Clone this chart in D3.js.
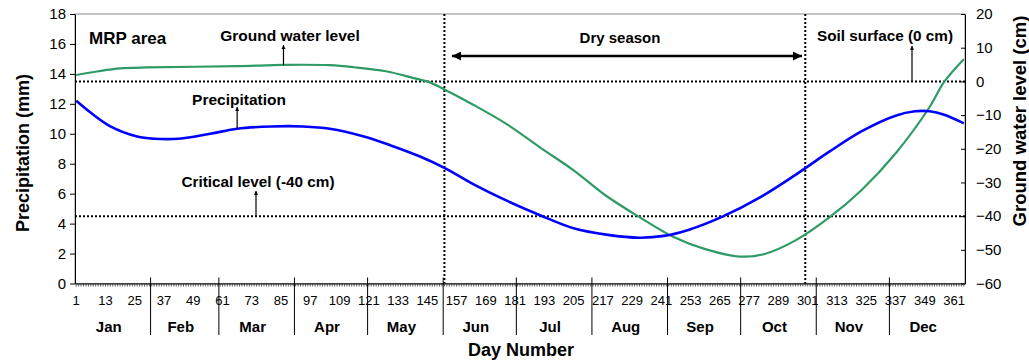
<!DOCTYPE html>
<html>
<head>
<meta charset="utf-8">
<script src="https://cdn.jsdelivr.net/npm/d3@7"></script>
<style>
  body { margin: 0; background: #fff; }
  text { font-family: "Liberation Sans", Arial, sans-serif; fill: #000; }
</style>
</head>
<body>
<svg id="chart" width="1029" height="360"></svg>
<script>
// Mean daily precipitation (mm) by day of year
const precipDays   = [1, 7, 15, 26, 33, 43, 56, 67, 81, 94, 105, 119, 130, 142, 152, 164, 178, 191, 205, 219, 232, 242, 252, 266, 282, 296, 310, 323, 337, 345, 351, 357, 365];
const precipValues = [12.2, 11.4, 10.5, 9.82, 9.67, 9.67, 10.0, 10.34, 10.49, 10.49, 10.34, 9.82, 9.22, 8.48, 7.72, 6.62, 5.5, 4.58, 3.69, 3.25, 3.06, 3.18, 3.58, 4.47, 5.81, 7.26, 8.82, 10.16, 11.21, 11.5, 11.5, 11.27, 10.7];

// Mean ground water level (cm, relative to soil surface) by day of year
const gwDays   = [1, 10, 19, 30, 67, 86, 105, 115, 128, 139, 146, 152, 164, 178, 191, 205, 218, 232, 246, 259, 273, 283, 296, 310, 323, 337, 351, 357, 365];
const gwValues = [1.9, 3.0, 3.85, 4.15, 4.5, 4.9, 4.8, 4.2, 3.0, 1.05, -0.3, -2.4, -7.0, -12.9, -19.5, -26.4, -33.8, -40.3, -46.2, -49.8, -52.0, -51.3, -47.2, -40.3, -32.3, -21.4, -7.6, -0.1, 6.6];

const monthNames     = ["Jan", "Feb", "Mar", "Apr", "May", "Jun", "Jul", "Aug", "Sep", "Oct", "Nov", "Dec"];
const monthStartDays = [1, 32, 60, 91, 121, 152, 182, 213, 244, 274, 305, 335];
const monthEndDays   = [31, 59, 90, 120, 151, 181, 212, 243, 273, 304, 334, 365];
const dayTickLabels  = [1, 13, 25, 37, 49, 61, 73, 85, 97, 109, 121, 133, 145, 157, 169, 181, 193, 205, 217, 229, 241, 253, 265, 277, 289, 301, 313, 325, 337, 349, 361];
const precipTicks    = [0, 2, 4, 6, 8, 10, 12, 14, 16, 18];
const gwTicks        = [-60, -50, -40, -30, -20, -10, 0, 10, 20];

const soilSurfaceLevel = 0;
const criticalLevel    = -40;
const drySeasonDays    = [152, 300];

const svg = d3.select("#chart");
const plotLeft = 75, plotRight = 965, plotTop = 14, plotBottom = 283.5;

const allDays = d3.range(1, 366);
const x  = d3.scaleBand().domain(allDays).range([plotLeft, plotRight]).padding(0);
const cx = d => x(d) + x.bandwidth() / 2;
const yL = d3.scaleLinear().domain([0, 18]).range([plotBottom, plotTop]);
const yR = d3.scaleLinear().domain([-60, 20]).range([plotBottom, plotTop]);

// plot frame
svg.append("rect")
  .attr("x", plotLeft).attr("y", plotTop)
  .attr("width", plotRight - plotLeft).attr("height", plotBottom - plotTop)
  .attr("fill", "none").attr("stroke", "#8c8c8c").attr("stroke-width", 1);

const dotted = { stroke: "#000", width: 2, dash: "2,2" };

// reference levels on the ground water axis
[soilSurfaceLevel, criticalLevel].forEach(v => {
  svg.append("line")
    .attr("x1", plotLeft).attr("x2", plotRight)
    .attr("y1", yR(v)).attr("y2", yR(v))
    .attr("stroke", dotted.stroke).attr("stroke-width", dotted.width)
    .attr("stroke-dasharray", dotted.dash);
});

// dry season bounds
drySeasonDays.forEach(d => {
  svg.append("line")
    .attr("x1", cx(d)).attr("x2", cx(d))
    .attr("y1", plotTop).attr("y2", plotBottom)
    .attr("stroke", dotted.stroke).attr("stroke-width", dotted.width)
    .attr("stroke-dasharray", dotted.dash);
});

// series
const precip = precipDays.map((d, i) => ({ day: d, v: precipValues[i] }));
const gw = gwDays.map((d, i) => ({ day: d, v: gwValues[i] }));
const smooth = d3.curveCatmullRom.alpha(0.5);

svg.append("path")
  .datum(gw)
  .attr("fill", "none").attr("stroke", "#2e9a66").attr("stroke-width", 2.2)
  .attr("d", d3.line().x(d => cx(d.day)).y(d => yR(d.v)).curve(smooth));

svg.append("path")
  .datum(precip)
  .attr("fill", "none").attr("stroke", "#0000ff").attr("stroke-width", 2.6)
  .attr("d", d3.line().x(d => cx(d.day)).y(d => yL(d.v)).curve(smooth));

// left axis
const gLeft = svg.append("g").attr("transform", `translate(${plotLeft},0)`)
  .call(d3.axisLeft(yL).tickValues(precipTicks).tickSizeInner(5).tickSizeOuter(0).tickPadding(4));
gLeft.selectAll("text").style("font-size", "15px");
gLeft.select(".domain").attr("stroke", "#000");

// right axis (ticks point inward)
const gRight = svg.append("g").attr("transform", `translate(${plotRight},0)`)
  .call(d3.axisRight(yR).tickValues(gwTicks).tickSizeInner(-4).tickSizeOuter(0).tickPadding(11));
gRight.selectAll("text").style("font-size", "15px");
gRight.select(".domain").attr("stroke", "#000");

// bottom axis: one small tick per day
const gBottom = svg.append("g").attr("transform", `translate(0,${plotBottom})`)
  .call(d3.axisBottom(x).tickValues(allDays).tickSizeInner(3).tickSizeOuter(0).tickFormat(""));
gBottom.selectAll(".tick line").attr("stroke", "#333").attr("stroke-width", 0.8);
gBottom.select(".domain").attr("stroke", "#000");

// day number labels
const gDayLabels = svg.append("g").attr("transform", `translate(0,${plotBottom})`)
  .call(d3.axisBottom(x).tickValues(dayTickLabels).tickSize(0).tickPadding(12));
gDayLabels.select(".domain").remove();
gDayLabels.selectAll("text").style("font-size", "13px");

// month separators and names
monthStartDays.slice(1).forEach(d => {
  svg.append("line")
    .attr("x1", x(d)).attr("x2", x(d))
    .attr("y1", plotBottom - 6).attr("y2", 335)
    .attr("stroke", "#000").attr("stroke-width", 1);
});
monthNames.forEach((m, i) => {
  const mid = (x(monthStartDays[i]) + x(monthEndDays[i]) + x.bandwidth()) / 2;
  svg.append("text")
    .attr("x", mid - 4).attr("y", 326)
    .attr("text-anchor", "middle").attr("dominant-baseline", "central")
    .style("font-size", "15px").style("font-weight", "bold")
    .text(m);
});

// axis titles
svg.append("text")
  .attr("transform", "translate(23,153) rotate(-90)")
  .attr("text-anchor", "middle").attr("dominant-baseline", "central")
  .style("font-size", "18px").style("font-weight", "bold")
  .text("Precipitation (mm)");
svg.append("text")
  .attr("transform", "translate(1019,121) rotate(-90)")
  .attr("text-anchor", "middle").attr("dominant-baseline", "central")
  .style("font-size", "18.5px").style("font-weight", "bold")
  .text("Ground water level (cm)");
svg.append("text")
  .attr("x", 521).attr("y", 350)
  .attr("text-anchor", "middle").attr("dominant-baseline", "central")
  .style("font-size", "18px").style("font-weight", "bold")
  .text("Day Number");

// arrow markers
const defs = svg.append("defs");
defs.append("marker")
  .attr("id", "smallHead").attr("viewBox", "0 0 10 10")
  .attr("refX", 10).attr("refY", 5)
  .attr("markerWidth", 4).attr("markerHeight", 5).attr("markerUnits", "userSpaceOnUse")
  .attr("orient", "auto")
  .append("path").attr("d", "M0,0L10,5L0,10Z").attr("fill", "#000");
defs.append("marker")
  .attr("id", "bigHead").attr("viewBox", "0 0 10 10")
  .attr("refX", 10).attr("refY", 5)
  .attr("markerWidth", 11).attr("markerHeight", 9).attr("markerUnits", "userSpaceOnUse")
  .attr("orient", "auto-start-reverse")
  .append("path").attr("d", "M0,0L10,5L0,10Z").attr("fill", "#000");

function pointer(px, yFrom, yTo) {
  svg.append("line")
    .attr("x1", px).attr("x2", px).attr("y1", yFrom).attr("y2", yTo)
    .attr("stroke", "#000").attr("stroke-width", 1.2)
    .attr("marker-end", "url(#smallHead)");
}
function label(txt, px, py, size, anchor) {
  svg.append("text")
    .attr("x", px).attr("y", py)
    .attr("text-anchor", anchor || "middle").attr("dominant-baseline", "central")
    .style("font-size", size + "px").style("font-weight", "bold")
    .text(txt);
}

// annotations
label("MRP area", 89, 38, 17, "start");

const gwPoint = gw.find(d => d.day === 86);
pointer(cx(gwPoint.day), yR(gwPoint.v), 45);
label("Ground water level", 290, 35, 15.5);

const prPoint = precip.find(d => d.day === 67);
pointer(cx(prPoint.day), yL(prPoint.v), 107);
label("Precipitation", 239, 99, 15.5);

pointer(256, yR(criticalLevel), 191);
label("Critical level (-40 cm)", 258, 181, 15.3);

pointer(912, yR(soilSurfaceLevel), 46);
label("Soil surface (0 cm)", 885, 35, 15.3);

label("Dry season", 620, 37, 15);
svg.append("line")
  .attr("x1", 452).attr("x2", 802).attr("y1", 56).attr("y2", 56)
  .attr("stroke", "#000").attr("stroke-width", 2.5)
  .attr("marker-start", "url(#bigHead)").attr("marker-end", "url(#bigHead)");
</script>
</body>
</html>
